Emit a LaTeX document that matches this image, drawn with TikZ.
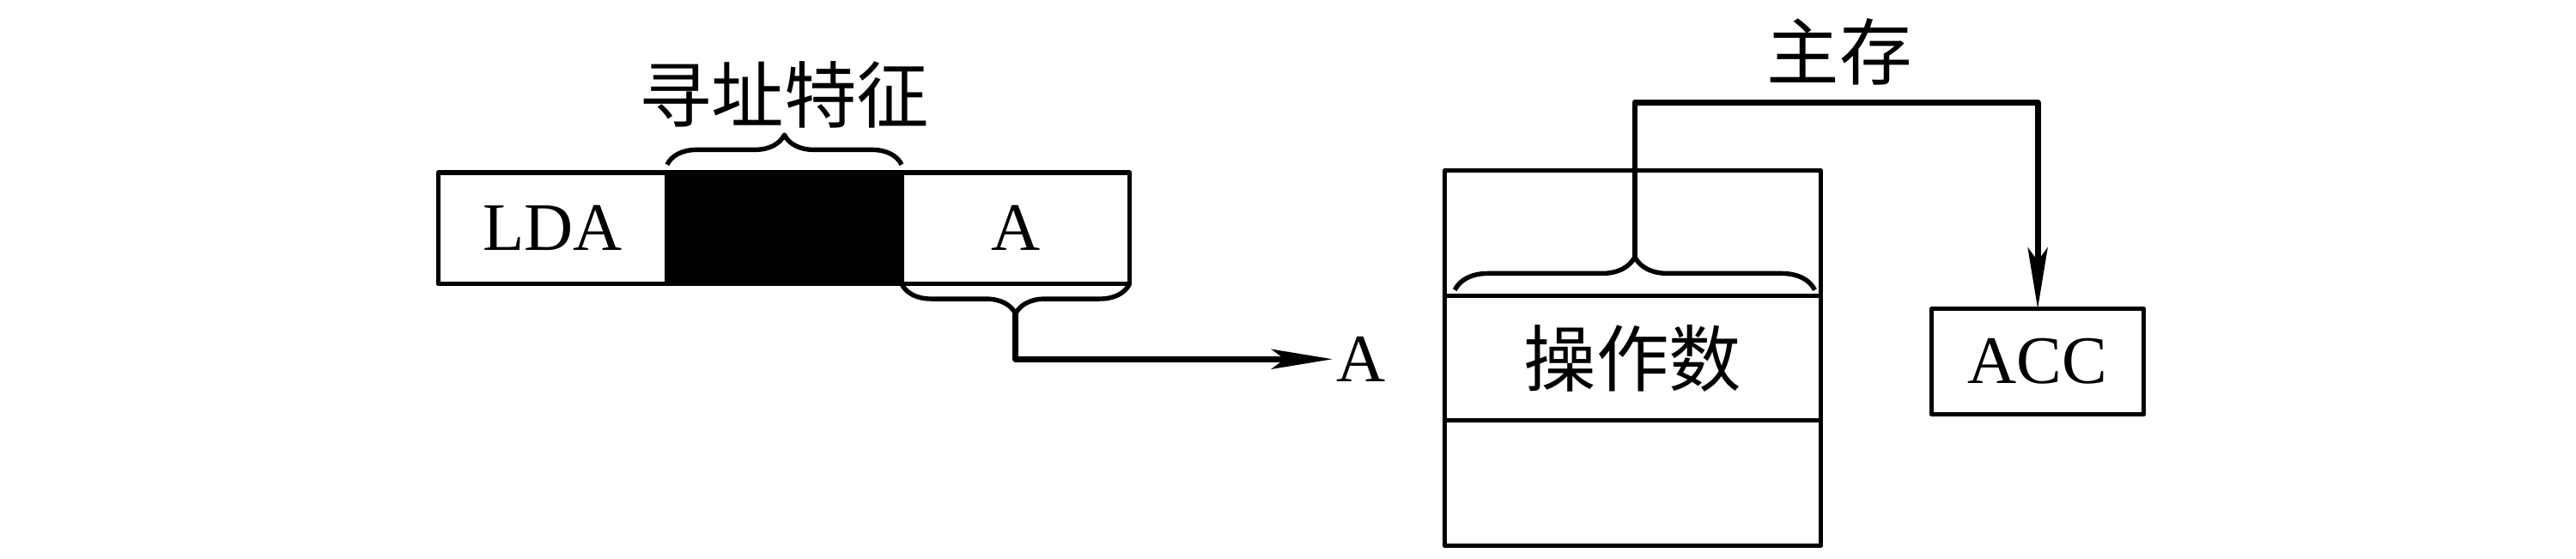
\documentclass[tikz,border=0pt]{standalone}
\usepackage{fontspec}
\setmainfont{Liberation Serif}
\newfontfamily\cjk{Noto Sans CJK SC}
\usetikzlibrary{positioning,arrows.meta,decorations.pathreplacing}
\tikzset{
  cell/.style={draw, line width=0.8pt, outer sep=0pt, minimum height=0.675cm, inner sep=0pt},
  memrow/.style={draw, line width=0.8pt, outer sep=0pt, minimum width=2.275cm, minimum height=0.757cm, inner sep=0pt},
  hanzi/.style={font=\cjk\fontsize{12.5}{15}\selectfont},
  bracket/.style={decorate, decoration={brace, amplitude=#1}, line width=0.8pt},
  link/.style={line width=1pt, ->}
}
\begin{document}
\begin{tikzpicture}[font=\fontsize{11.7}{14}\selectfont, line join=round, >={Stealth[length=3.7mm, width=1.2mm, inset=0.8mm]}]
\useasboundingbox (0,0) rectangle (15.6,3.385);
% instruction word
\node[cell, minimum width=1.385cm] (lda) at (3.3475,2.0025) {LDA};
\node[cell, minimum width=1.42cm, fill=black, right=0pt of lda] (feat) {};
\node[cell, minimum width=1.38cm, right=0pt of feat] (addr) {A};
\draw[bracket=0.18cm] (4.04,2.388) -- (5.46,2.388);
\node[hanzi] (featlbl) at (4.75,2.81) {寻址特征};
\draw[bracket=0.18cm] (6.84,1.665) -- (5.46,1.665);
\coordinate (addrtip) at (6.15,1.485);
\node[anchor=west, inner sep=0.5pt] (tgt) at (8.07,1.21) {A};
\draw[link] (addrtip) |- (tgt.west);
% main memory
\node[memrow] (row1) at (9.8875,1.9735) {};
\node[memrow, hanzi, below=0pt of row1] (opd) {操作数};
\node[memrow, below=0pt of opd] (row3) {};
\draw[bracket=0.2cm] (8.81,1.629) -- (10.99,1.629);
\coordinate (opdtip) at (9.90,1.829);
\node[cell, minimum width=1.285cm, minimum height=0.64cm] (acc) at (12.34,1.195) {ACC};
\coordinate (bend) at (9.90,2.765);
\draw[link] (opdtip) -- (bend) -| (acc.north);
\node[hanzi] (memlbl) at (11.14,3.07) {主存};
\end{tikzpicture}
\end{document}
